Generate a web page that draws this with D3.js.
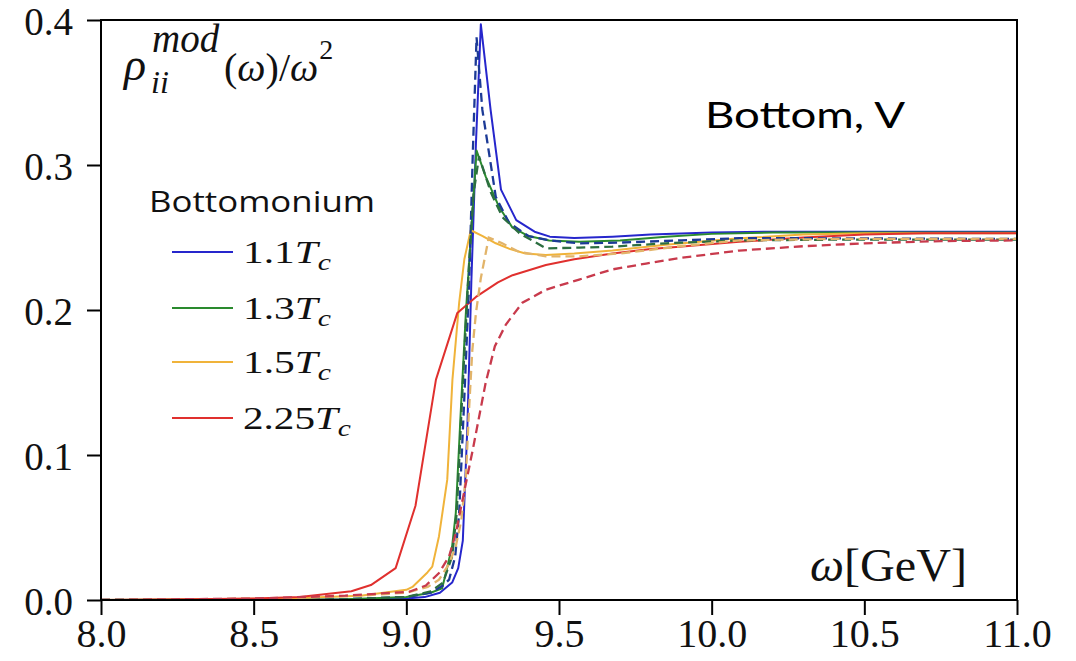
<!DOCTYPE html>
<html>
<head>
<meta charset="utf-8">
<script src="https://cdn.jsdelivr.net/npm/d3@7"></script>
<style>
  html, body { margin: 0; padding: 0; background: #ffffff; }
  svg { display: block; }
</style>
</head>
<body>
<svg id="chart" width="1076" height="661"></svg>
<script>
// Spectral function rho_ii^mod(w)/w^2 for bottomonium (vector channel)
// Each series: [omega (GeV), value] pairs.

const xTicks = [8.0, 8.5, 9.0, 9.5, 10.0, 10.5, 11.0];
const yTicks = [0.0, 0.1, 0.2, 0.3, 0.4];
const temperatures = ["1.1", "1.3", "1.5", "2.25"];

const solid11 = [[8.0,0],[8.8,0.0003],[9.0,0.001],[9.06,0.002],[9.11,0.005],[9.15,0.012],[9.17,0.022],[9.185,0.041],[9.2,0.12],[9.213,0.22],[9.228,0.315],[9.244,0.397],[9.276,0.338],[9.31,0.283],[9.36,0.262],[9.42,0.254],[9.47,0.2506],[9.55,0.2497],[9.675,0.2506],[9.8,0.252],[10.0,0.2535],[10.2,0.254],[10.6,0.254],[11.0,0.254]];
const dashed11 = [[8.0,0],[8.8,0.0005],[9.0,0.002],[9.08,0.005],[9.12,0.01],[9.14,0.014],[9.16,0.03],[9.173,0.06],[9.19,0.14],[9.206,0.22],[9.218,0.31],[9.23,0.388],[9.249,0.338],[9.293,0.278],[9.337,0.26],[9.4,0.251],[9.468,0.248],[9.566,0.246],[9.7,0.2465],[9.9,0.248],[10.09,0.2495],[10.3,0.2495],[11.0,0.249]];

const solid13 = [[8.0,0],[8.8,0.0005],[9.0,0.002],[9.08,0.005],[9.117,0.008],[9.13,0.019],[9.15,0.037],[9.162,0.06],[9.178,0.129],[9.195,0.198],[9.217,0.269],[9.23,0.31],[9.26,0.292],[9.304,0.271],[9.347,0.257],[9.4,0.251],[9.468,0.248],[9.566,0.247],[9.7,0.248],[9.85,0.2505],[10.0,0.2525],[10.2,0.2535],[10.6,0.2535],[11.0,0.2535]];
const dashed13 = [[8.0,0],[8.8,0.0005],[9.0,0.002],[9.08,0.006],[9.12,0.012],[9.15,0.03],[9.165,0.06],[9.185,0.15],[9.205,0.23],[9.22,0.28],[9.238,0.306],[9.277,0.281],[9.315,0.264],[9.37,0.253],[9.457,0.2425],[9.566,0.243],[9.675,0.2437],[9.85,0.246],[10.09,0.248],[10.4,0.2485],[11.0,0.2485]];

const solid15 = [[8.0,0],[8.6,0.001],[8.85,0.003],[9.0,0.007],[9.02,0.009],[9.069,0.019],[9.085,0.023],[9.107,0.044],[9.134,0.083],[9.151,0.152],[9.173,0.205],[9.19,0.235],[9.211,0.255],[9.25,0.251],[9.293,0.246],[9.34,0.242],[9.39,0.239],[9.457,0.238],[9.55,0.239],[9.675,0.241],[9.85,0.245],[10.09,0.2494],[10.3,0.252],[10.5,0.253],[11.0,0.253]];
const dashed15 = [[8.0,0],[8.6,0.001],[8.85,0.003],[9.0,0.005],[9.07,0.009],[9.107,0.014],[9.14,0.025],[9.162,0.037],[9.18,0.055],[9.195,0.085],[9.205,0.13],[9.216,0.172],[9.228,0.198],[9.244,0.222],[9.27,0.25],[9.314,0.246],[9.37,0.24],[9.457,0.237],[9.566,0.237],[9.7,0.239],[9.9,0.244],[10.09,0.248],[10.4,0.249],[11.0,0.249]];

const solid225 = [[8.0,0],[8.3,0.0005],[8.5,0.001],[8.65,0.002],[8.82,0.006],[8.884,0.0103],[8.965,0.022],[9.03,0.065],[9.097,0.152],[9.167,0.198],[9.228,0.209],[9.3,0.219],[9.348,0.224],[9.457,0.231],[9.55,0.235],[9.675,0.239],[9.8,0.242],[9.894,0.2437],[10.09,0.247],[10.3,0.250],[10.5,0.252],[10.7,0.253],[11.0,0.253]];
const dashed225 = [[8.0,0],[8.5,0.001],[8.8,0.003],[9.01,0.0057],[9.064,0.010],[9.107,0.0186],[9.14,0.03],[9.162,0.046],[9.184,0.069],[9.217,0.103],[9.26,0.15],[9.29,0.175],[9.326,0.19],[9.38,0.205],[9.457,0.214],[9.566,0.221],[9.675,0.228],[9.785,0.232],[9.9,0.236],[10.09,0.241],[10.3,0.244],[10.5,0.246],[10.75,0.2475],[11.0,0.248]];

const solidSeries = [solid11, solid13, solid15, solid225];
const dashedSeries = [dashed11, dashed13, dashed15, dashed225];
const solidColors = ["#2626cc", "#2a8a2e", "#f0b33a", "#e0302e"];
const dashedColors = ["#1c3a96", "#2c6e40", "#e2b46a", "#c83a4c"];

const svg = d3.select("#chart");
const plotLeft = 101, plotRight = 1017, plotTop = 20, plotBottom = 600;

const x = d3.scaleLinear().domain([8, 11]).range([plotLeft, plotRight]);
const y = d3.scaleLinear().domain([0, 0.4]).range([plotBottom, plotTop]);

const line = d3.line().x(d => x(d[0])).y(d => y(d[1]));

svg.append("clipPath").attr("id", "clip")
  .append("rect").attr("x", plotLeft).attr("y", plotTop - 2)
  .attr("width", plotRight - plotLeft).attr("height", plotBottom - plotTop + 2);

const curves = svg.append("g").attr("clip-path", "url(#clip)");
solidSeries.forEach((s, i) => {
  curves.append("path").attr("d", line(s))
    .attr("fill", "none").attr("stroke", solidColors[i])
    .attr("stroke-width", 2).attr("stroke-linejoin", "round");
});
dashedSeries.forEach((s, i) => {
  curves.append("path").attr("d", line(s))
    .attr("fill", "none").attr("stroke", dashedColors[i])
    .attr("stroke-width", 2.3).attr("stroke-dasharray", "9,5");
});

// Frame
svg.append("rect").attr("x", plotLeft).attr("y", plotTop)
  .attr("width", plotRight - plotLeft).attr("height", plotBottom - plotTop)
  .attr("fill", "none").attr("stroke", "#000").attr("stroke-width", 2);

const tickFont = "'Liberation Serif', 'DejaVu Serif', serif";

const xAxis = svg.append("g").attr("transform", `translate(0,${plotBottom})`)
  .call(d3.axisBottom(x).tickValues(xTicks).tickFormat(d3.format(".1f")).tickSize(15).tickPadding(4));
const yAxis = svg.append("g").attr("transform", `translate(${plotLeft},0)`)
  .call(d3.axisLeft(y).tickValues(yTicks).tickFormat(d3.format(".1f")).tickSize(14).tickPadding(14));
[xAxis, yAxis].forEach(a => {
  a.select(".domain").remove();
  a.selectAll(".tick line").attr("stroke", "#000").attr("stroke-width", 2);
  a.selectAll(".tick text").attr("fill", "#111").style("font-family", tickFont).style("font-size", "40px");
});
xAxis.selectAll(".tick text").attr("dy", "0.71em");
yAxis.selectAll(".tick text").style("font-size", "39px").attr("dy", "0.37em");

// Y label: rho_ii^mod(omega)/omega^2, set as one text with positioned pieces
const mathFont = "'Liberation Serif', 'DejaVu Serif', serif";
const yl = svg.append("text").style("font-family", mathFont).attr("fill", "#111");
yl.append("tspan").attr("x", 124).attr("y", 80).style("font-size", "46px").style("font-style", "italic").text("ρ");
yl.append("tspan").attr("x", 151).attr("y", 93).style("font-size", "32px").style("font-style", "italic").text("ii");
yl.append("tspan").attr("x", 152).attr("y", 52).style("font-size", "39px").style("font-style", "italic").text("mod");
yl.append("tspan").attr("x", 224).attr("y", 81).style("font-size", "40px").text("(");
yl.append("tspan").style("font-size", "40px").style("font-style", "italic").text("ω");
yl.append("tspan").style("font-size", "40px").text(")/");
yl.append("tspan").style("font-size", "40px").style("font-style", "italic").text("ω");
yl.append("tspan").attr("dx", 1).attr("dy", -22).style("font-size", "28px").text("2");

// X label
const xl = svg.append("text").attr("x", 810).attr("y", 581)
  .attr("textLength", 157).attr("lengthAdjust", "spacingAndGlyphs")
  .style("font-family", mathFont).style("font-size", "46px").attr("fill", "#111");
xl.append("tspan").style("font-style", "italic").text("ω");
xl.append("tspan").text("[GeV]");

// Panel title
svg.append("text").attr("x", 705).attr("y", 128)
  .attr("textLength", 200).attr("lengthAdjust", "spacingAndGlyphs")
  .style("font-family", "Lato, 'Open Sans', sans-serif").style("font-size", "37px")
  .attr("fill", "#000").text("Bottom, V");

// Legend
const legend = svg.append("g");
legend.append("text").attr("x", 149).attr("y", 212)
  .attr("textLength", 226).attr("lengthAdjust", "spacingAndGlyphs")
  .style("font-family", "'Open Sans', 'DejaVu Sans', sans-serif").style("font-size", "30px")
  .attr("fill", "#111").text("Bottomonium");
const rowY = [252, 308, 362, 418];
const rowWidth = [88, 88, 88, 108];
temperatures.forEach((t, i) => {
  legend.append("line").attr("x1", 172).attr("x2", 233)
    .attr("y1", rowY[i]).attr("y2", rowY[i])
    .attr("stroke", solidColors[i]).attr("stroke-width", 2);
  const lt = legend.append("text").attr("x", 243).attr("y", rowY[i] + 11)
    .attr("textLength", rowWidth[i]).attr("lengthAdjust", "spacingAndGlyphs")
    .style("font-family", mathFont).style("font-size", "32px").attr("fill", "#111");
  lt.append("tspan").text(t);
  lt.append("tspan").style("font-style", "italic").text("T");
  lt.append("tspan").attr("dy", 7).style("font-style", "italic").style("font-size", "23px").text("c");
});
</script>
</body>
</html>
